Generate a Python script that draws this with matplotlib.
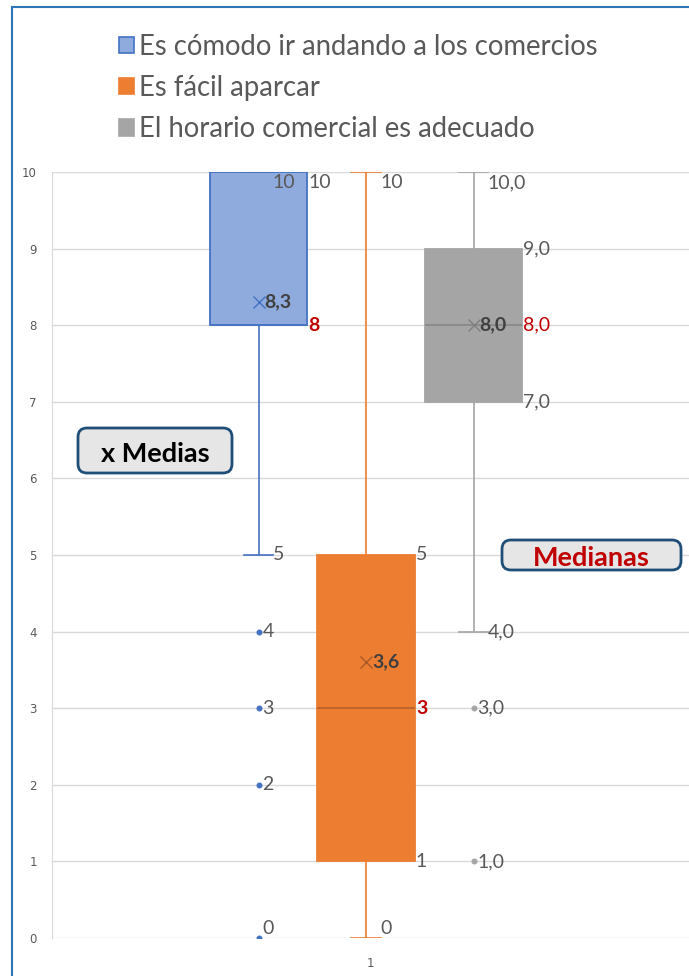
import matplotlib.pyplot as plt
from matplotlib.patches import Patch, FancyBboxPatch
from matplotlib.lines import Line2D

# datos
series = ["Es cómodo ir andando a los comercios", "Es fácil aparcar",
          "El horario comercial es adecuado"]
q1 = [8, 1, 7]
medians = [8, 3, 8]
q3 = [10, 5, 9]
whisker_lo = [5, 0, 4]
whisker_hi = [10, 10, 10]
means = [8.3, 3.6, 8.0]
fliers = [[4, 3, 2, 0], [], [3, 1]]
decimals = [0, 0, 1]
positions = [0.8, 1.0, 1.2]

face = ['#8faadc', '#ed7d31', '#a5a5a5']
edge = ['#4472c4', '#ed7d31', '#a5a5a5']
med_col = ['#4472c4', '#a65a2a', '#7f7f7f']
mean_col = ['#4472c4', '#a65a2a', '#7f7f7f']
txt = '#595959'
red = '#c00000'
font = 'Lato'

fig = plt.figure(figsize=(6.89, 9.76), dpi=100)
ax = fig.add_axes([52 / 689, 38 / 976, 637 / 689, 766 / 976])

width = 0.182
for i in range(3):
    st = dict(q1=q1[i], med=medians[i], q3=q3[i], whislo=whisker_lo[i],
              whishi=whisker_hi[i], mean=means[i], fliers=fliers[i])
    ax.bxp([st], positions=[positions[i]], widths=width, capwidths=0.055,
           showmeans=True, patch_artist=True,
           boxprops=dict(facecolor=face[i], edgecolor=edge[i], linewidth=1.3),
           whiskerprops=dict(color=edge[i], linewidth=1.2),
           capprops=dict(color=edge[i], linewidth=1.2),
           medianprops=dict(color=med_col[i], linewidth=1.2, alpha=0.8),
           meanprops=dict(marker='x', markeredgecolor=mean_col[i], markersize=8,
                          markeredgewidth=1),
           flierprops=dict(marker='o', markerfacecolor=edge[i], markeredgecolor=edge[i],
                           markersize=3.3))


def fmt(v, d):
    return f"{v:.{d}f}".replace('.', ',')


def lab(x, v, dx, s, **kw):
    dy = -11 if v == 10 else (10 if v == 0 else 0)
    ax.annotate(s, (x, v), xytext=(dx, dy), textcoords='offset pixels',
                ha='left', va='center', fontsize=14, family=font, **kw)


for i in range(3):
    p = positions[i]
    d = decimals[i]
    lab(p, whisker_hi[i], 14, fmt(whisker_hi[i], d), color=txt)
    lab(p, whisker_lo[i], 14, fmt(whisker_lo[i], d), color=txt)
    lab(p + width / 2, q3[i], 1, fmt(q3[i], d), color=txt)
    if q1[i] != medians[i]:
        lab(p + width / 2, q1[i], 1, fmt(q1[i], d), color=txt)
    lab(p + width / 2, medians[i], 1, fmt(medians[i], d), color=red,
        fontweight='bold' if i < 2 else 'normal')
    lab(p, means[i], 6, fmt(means[i], 1), color='#404040', fontweight='bold')
    for f in fliers[i]:
        lab(p, f, 4, fmt(f, d), color=txt)

ax.set_xlim(1 - 314 / 537.5, 1 + 323 / 537.5)
ax.set_ylim(0, 10)
ax.set_yticks(range(11))
ax.set_xticks([1.0 + 4 / 537.5])
ax.set_xticklabels(['1'])
ax.tick_params(length=0, labelsize=8.5, labelcolor=txt)
ax.tick_params(axis='y', pad=11)
ax.tick_params(axis='x', pad=14)
ax.grid(axis='y', color='#d9d9d9', linewidth=1)
ax.set_axisbelow(True)
for s in ['top', 'right', 'bottom']:
    ax.spines[s].set_visible(False)
ax.spines['left'].set_color('#d9d9d9')

# leyenda
handles = [Patch(facecolor=face[i], edgecolor=edge[i], linewidth=1.2) for i in range(3)]
leg = fig.legend(handles, series, loc='upper left', bbox_to_anchor=(94 / 689, 1 - 9 / 976),
                 frameon=False, handlelength=0.55, handleheight=0.55, handletextpad=0.18,
                 labelspacing=0.55, prop=dict(family=font, size=19.8))
for t in leg.get_texts():
    t.set_color(txt)

# cajas de texto
for (x0, y0, w, h), s, c in [((0.78, 5.03, 1.54, 0.45), 'x Medias', 'black'),
                             ((5.02, 4.06, 1.79, 0.30), 'Medianas', red)]:
    fig.patches.append(FancyBboxPatch((x0, y0), w, h, boxstyle='round,pad=0,rounding_size=0.09',
                                      transform=fig.dpi_scale_trans, facecolor='#e7e6e6',
                                      edgecolor='#1f4e79', linewidth=2))
    fig.text(x0 + w / 2, y0 + h / 2 - 0.03, s, transform=fig.dpi_scale_trans, ha='center',
             va='center', fontsize=19.5, fontweight='bold', color=c, family=font)

# marco azul
fig.add_artist(Line2D([12 / 689, 12 / 689], [0, 1 - 7 / 976], color='#2e75b6', linewidth=1.5))
fig.add_artist(Line2D([12 / 689, 1], [1 - 7 / 976, 1 - 7 / 976], color='#2e75b6', linewidth=1.5))

fig.savefig('out.png', dpi=100)
